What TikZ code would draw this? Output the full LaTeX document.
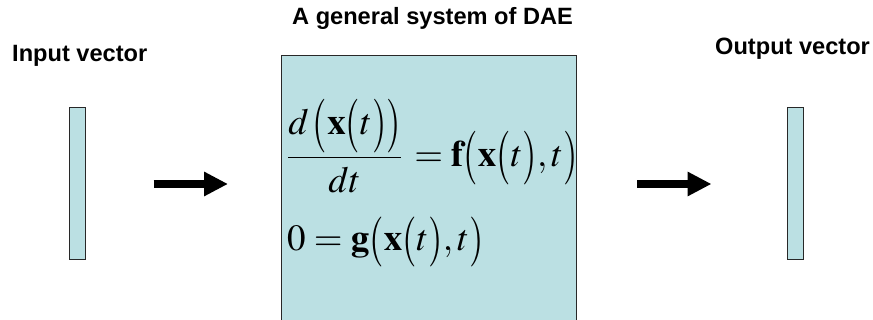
\documentclass[tikz,border=0pt]{standalone}
\usepackage{mathptmx}
\usepackage[no-math]{fontspec}
\newfontfamily\arial{Liberation Sans}
\usetikzlibrary{arrows.meta}
\definecolor{boxfill}{RGB}{187,224,227}
\definecolor{edge}{RGB}{40,40,40}
\newcommand{\tlp}[1][1.45]{\mathopen{\vcenter{\hbox{\scalebox{1}[#1]{$($}}}}}
\newcommand{\trp}[1][1.45]{\mathclose{\vcenter{\hbox{\scalebox{1}[#1]{$)$}}}}}
\tikzset{
  lbl/.style={font=\arial\bfseries\fontsize{23.6}{28}\selectfont, inner sep=0pt},
  vecbar/.style={draw=edge, fill=boxfill, line width=1pt, minimum width=16pt, minimum height=152pt, inner sep=0pt},
  eqn/.style={font=\fontsize{37}{43}\selectfont, inner sep=0pt},
  fatarrow/.style={line width=8pt, -{Triangle[length=24pt,width=23pt]}}
}
\begin{document}
\begin{tikzpicture}[x=1pt,y=-1pt]
\useasboundingbox (0,0) rectangle (873,320);
% labels
\node[lbl, anchor=base west] (inlbl) at (12,62) {Input vector};
\node[lbl, anchor=base west] (title) at (292,24.5) {A general system of DAE};
\node[lbl, anchor=base west] (outlbl) at (715,54.5) {Output vector};
% bars
\node[vecbar] (inbar) at (77,184) {};
\node[vecbar] (outbar) at (795,184) {};
% main box (runs past bottom edge)
\fill[boxfill] (281,56) rectangle (576,320);
\coordinate (boxw) at (281,184);
\coordinate (boxe) at (576,184);
\draw[edge, line width=1pt] (281,320) -- (281,56) -- (576,56) -- (576,320);
% equations
\node[eqn, anchor=base west] (eq1) at (287,167)
  {$\displaystyle\frac{d\,\tlp\mathbf{x}\tlp t\trp\trp}{dt}\,=\mathbf{f}\tlp\mathbf{x}\tlp t\trp{,}\,t\trp$};
\node[eqn, anchor=base west] (eq2) at (287,251)
  {$0=\mathbf{g}\tlp[1.35]\mathbf{x}\tlp[1.35] t\trp[1.35]{,}\,t\trp[1.35]$};
% arrows
\draw[fatarrow, shorten <=68pt, shorten >=53pt] (inbar.east) -- (boxw);
\draw[fatarrow, shorten <=61pt, shorten >=75pt] (boxe) -- (outbar.west);
\end{tikzpicture}
\end{document}
